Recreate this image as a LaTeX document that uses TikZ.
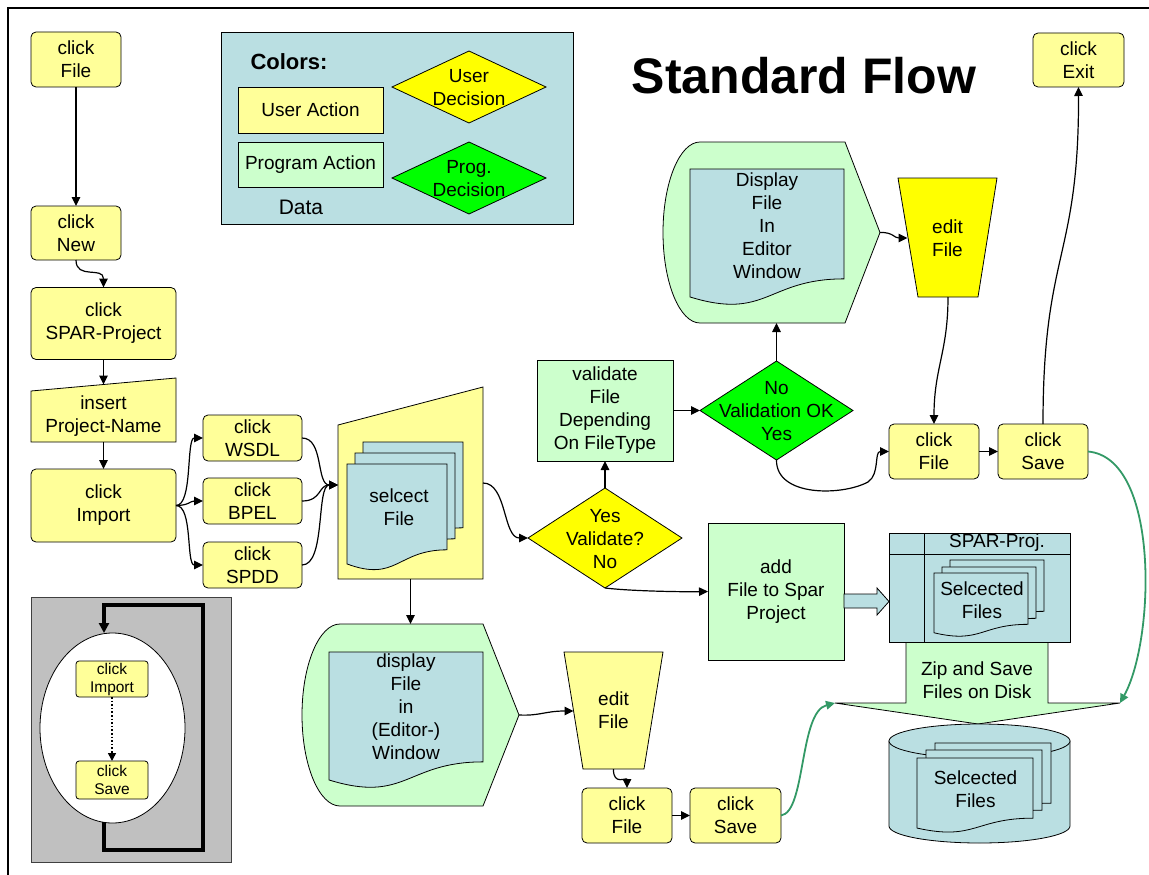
\documentclass[tikz,border=0pt]{standalone}
\usepackage{fontspec}
\setmainfont{Liberation Sans}
\usetikzlibrary{arrows.meta,shapes.geometric}
\definecolor{uay}{RGB}{255,255,153}
\definecolor{udy}{RGB}{255,255,0}
\definecolor{pag}{RGB}{204,255,204}
\definecolor{pdg}{RGB}{0,255,0}
\definecolor{datab}{RGB}{186,223,226}
\definecolor{insetgray}{RGB}{192,192,192}
\definecolor{savegreen}{RGB}{51,153,102}

% document symbol with wavy lower edge: style, x0, y0, width, height
\newcommand\docshape[5]{%
  \draw[#1] (#2,#3) -- ({#2+#4},#3) -- ({#2+#4},{#3+0.802*#5})
    .. controls ({#2+0.5*#4},{#3+0.802*#5}) and ({#2+0.5*#4},{#3+1.1075*#5}) .. (#2,{#3+0.934*#5}) -- cycle;}

\begin{document}
\begin{tikzpicture}[x=1pt,y=-1pt,
  every node/.style={font=\fontsize{19}{23}\selectfont, inner sep=0pt, outer sep=0pt, align=center},
  shapeline/.style={draw=black, line width=0.8pt},
  ua/.style={shapeline, fill=uay, rounded corners=5pt},
  box/.style={shapeline, rectangle},
  dec/.style={shapeline, diamond},
  conn/.style={line width=1.2pt, -{Triangle[length=9pt,width=8.5pt]}},
  gconn/.style={conn, draw=savegreen, line width=1.8pt},
  small/.style={font=\fontsize{15.5}{18}\selectfont}]

\useasboundingbox (0,0) rectangle (1149,875);
\draw[line width=2pt] (8,875) -- (8,8) -- (1149,8);

% ---------- legend ----------
\node[box, fill=datab, minimum width=352pt, minimum height=192pt] (legend) at (397,128) {};
\node[font=\fontsize{22}{26}\selectfont\bfseries] (lcolors) at (289,62) {Colors:};
\node[box, fill=uay, minimum width=145pt, minimum height=46pt] (lua) at (310.5,110) {User Action};
\node[box, fill=pag, minimum width=145pt, minimum height=45pt] (lpa) at (310.5,164.5) {Program Action};
\node[font=\fontsize{21}{25}\selectfont] (ldata) at (301,207) {Data};
\node[dec, fill=udy, minimum width=154pt, minimum height=72pt] (lud) at (469,87) {};
\node (ludt) at (469,88) {User\\Decision};
\node[dec, fill=pdg, minimum width=154pt, minimum height=72pt] (lpd) at (469,178) {};
\node (lpdt) at (469,179) {Prog.\\Decision};

\node[font=\fontsize{50}{60}\selectfont\bfseries, anchor=base] (title) at (804,93) {Standard Flow};

% ---------- left column ----------
\node[ua, minimum width=90pt, minimum height=55pt] (cf1) at (76,59.5) {click\\File};
\node[ua, minimum width=90pt, minimum height=54pt] (cnew) at (76,233) {click\\New};
\node[ua, minimum width=145pt, minimum height=72pt] (cspar) at (103.5,323.5) {click\\SPAR-Project};
\draw[shapeline, fill=uay] (31,391) -- (176,378) -- (176,442) -- (31,442) -- cycle;
\node (ins) at (103.5,416) {insert\\Project-Name};
\coordinate (insTop) at (103.5,384.5);
\coordinate (insBot) at (103.5,442);
\node[ua, minimum width=145pt, minimum height=73pt] (cimp) at (103.5,505.5) {click\\Import};
\node[ua, minimum width=99pt, minimum height=46pt] (cwsdl) at (252.5,438) {click\\WSDL};
\node[ua, minimum width=99pt, minimum height=46pt] (cbpel) at (252.5,501) {click\\BPEL};
\node[ua, minimum width=99pt, minimum height=46pt] (cspdd) at (252.5,565) {click\\SPDD};

% ---------- select file ----------
\draw[shapeline, fill=uay] (338,425) -- (483,387) -- (483,579) -- (338,579) -- cycle;
\docshape{shapeline,fill=datab}{363}{442}{100}{107}
\docshape{shapeline,fill=datab}{355}{453}{100}{107}
\docshape{shapeline,fill=datab}{347}{464}{100}{107}
\node (selt) at (399,507) {selcect\\File};
\coordinate (selIn) at (338,485);
\coordinate (selOut) at (483,483);
\coordinate (selBot) at (410.5,579);

% ---------- validation ----------
\node[dec, fill=udy, minimum width=154pt, minimum height=100pt] (vq) at (605,538) {};
\node (vqt) at (605,539) {Yes\\Validate?\\No};
\node[box, fill=pag, minimum width=136pt, minimum height=101pt] (val) at (605,410.5) {validate\\File\\Depending\\On FileType};
\node[dec, fill=pdg, minimum width=153pt, minimum height=99pt] (vok) at (776.5,410.5) {};
\node (vokt) at (776.5,411) {No\\Validation OK\\Yes};
\node[box, fill=pag, minimum width=136pt, minimum height=137pt] (add) at (776,591.5) {add\\File to Spar\\Project};

% ---------- upper display / edit ----------
\draw[shapeline, fill=pag] (700,142) -- (845,142) -- (880,232.5) -- (845,323) -- (700,323)
  .. controls (679.6,323) and (663,282.5) .. (663,232.5)
  .. controls (663,182.5) and (679.6,142) .. (700,142) -- cycle;
\docshape{shapeline,fill=datab}{690}{169}{154}{137}
\node (dispTt) at (767,226) {Display\\File\\In\\Editor\\Window};
\coordinate (dispTbot) at (776.5,323);
\coordinate (dispTout) at (880,232.5);
\draw[shapeline, fill=udy] (898,178) -- (997,178) -- (978,297) -- (918,297) -- cycle;
\node (editTt) at (947.5,238) {edit\\File};
\coordinate (editTin) at (907.5,238);
\coordinate (editTbot) at (948,297);
\node[ua, minimum width=91pt, minimum height=54pt] (cexit) at (1078.5,60) {click\\Exit};
\node[ua, minimum width=90pt, minimum height=55pt] (cfile2) at (934,451.5) {click\\File};
\node[ua, minimum width=90pt, minimum height=55pt] (csave2) at (1043,451.5) {click\\Save};

% ---------- project storage and disk ----------
\draw[shapeline, fill=pag] (906,642) -- (1048,642) -- (1048,703) -- (1120,703) -- (978,724)
  -- (835,703) -- (906,703) -- cycle;
\node (zipt) at (977,680) {Zip and Save\\Files on Disk};
\coordinate (zipL) at (835,703);
\coordinate (zipR) at (1120,703);
\draw[shapeline, fill=datab] (844,594) -- (877,594) -- (877,588) -- (889,601.5) -- (877,615)
  -- (877,608) -- (844,608) -- cycle;
\node[box, fill=datab, minimum width=181pt, minimum height=109pt] (sparproj) at (979.5,587.5) {};
\draw[shapeline] (924,533) -- (924,642);
\draw[shapeline] (889,554) -- (1070,554);
\node (sparlbl) at (997,543) {SPAR-Proj.};
\docshape{shapeline,fill=datab}{950}{560}{94}{64}
\docshape{shapeline,fill=datab}{942}{567}{94}{64}
\docshape{shapeline,fill=datab}{934}{573}{94}{64}
\node (sparfiles) at (982,600) {Selcected\\Files};

\draw[shapeline, fill=datab] (889,741) -- (889,826)
  .. controls (889,835.4) and (929.5,843) .. (979.5,843)
  .. controls (1029.5,843) and (1070,835.4) .. (1070,826) -- (1070,741) -- cycle;
\draw[shapeline, fill=datab] (979.5,741) ellipse [x radius=90.5pt, y radius=17pt];
\docshape{shapeline,fill=datab}{935}{743}{116}{75}
\docshape{shapeline,fill=datab}{926}{750}{116}{75}
\docshape{shapeline,fill=datab}{917}{758}{116}{75}
\node (diskfiles) at (975.5,789) {Selcected\\Files};

% ---------- lower display / edit ----------
\draw[shapeline, fill=pag] (340,624) -- (483,624) -- (519,715) -- (483,806) -- (340,806)
  .. controls (319,806) and (302,765) .. (302,715)
  .. controls (302,665) and (319,624) .. (340,624) -- cycle;
\docshape{shapeline,fill=datab}{329}{652}{154}{137}
\node (dispBt) at (406,707) {display\\File\\in\\(Editor-)\\Window};
\coordinate (dispBtop) at (410.5,624);
\coordinate (dispBout) at (519,715);
\draw[shapeline, fill=uay] (564,652) -- (663,652) -- (644,769) -- (583,769) -- cycle;
\node (editBt) at (613.5,710) {edit\\File};
\coordinate (editBin) at (573.5,711);
\coordinate (editBbot) at (613.5,769);
\node[ua, minimum width=90pt, minimum height=55pt] (cfile3) at (627,815.5) {click\\File};
\node[ua, minimum width=91pt, minimum height=55pt] (csave3) at (735.5,815.5) {click\\Save};

% ---------- repeat loop inset ----------
\node[draw=black!75, line width=1pt, fill=insetgray, minimum width=200pt, minimum height=265pt] (inset) at (131,729.5) {};
\node[shapeline, fill=white, ellipse, minimum width=145pt, minimum height=190pt] (loopell) at (112.5,728) {};
\node[ua, rounded corners=3pt, small, minimum width=72pt, minimum height=36pt] (simp) at (112,679) {click\\Import};
\node[ua, rounded corners=3pt, small, minimum width=72pt, minimum height=38pt] (ssave) at (112,780) {click\\Save};
\draw[line width=1.6pt, dotted, -{Triangle[length=8pt,width=8pt]}] (simp.south) -- (ssave.north);
\coordinate (loopStart) at (104,822);
\coordinate (loopEnd) at (104,633);
\draw[line width=3.5pt, -{Triangle[length=10pt,width=10pt]}] (loopStart) -- (104,850) -- (203,850) -- (203,605) -- (104,605) -- (loopEnd);

% ---------- connectors ----------
\draw[conn] (cf1.south) -- (cnew.north);
\draw[conn] (cnew.south) .. controls (76,280) and (103.5,266) .. (cspar.north);
\draw[conn] (cspar.south) -- (insTop);
\draw[conn] (insBot) -- (cimp.north);
\draw[conn] (cimp.east) .. controls (193,505.5) and (186,438) .. (cwsdl.west);
\draw[conn] (cimp.east) .. controls (189,505.5) and (190,501) .. (cbpel.west);
\draw[conn] (cimp.east) .. controls (193,505.5) and (186,565) .. (cspdd.west);
\draw[conn] (cwsdl.east) .. controls (324,438) and (316,485) .. (selIn);
\draw[conn] (cbpel.east) .. controls (322,501) and (318,485) .. (selIn);
\draw[conn] (cspdd.east) .. controls (326,565) and (316,485) .. (selIn);
\draw[conn] (selOut) .. controls (507,483) and (503,538) .. (vq.west);
\draw[conn] (selBot) -- (dispBtop);
\draw[conn] (vq.north) -- (val.south);
\draw[conn] (vq.south) .. controls (630,591) and (680,592) .. (add.west);
\draw[conn] (val.east) -- (vok.west);
\draw[conn] (vok.north) -- (dispTbot);
\draw[conn] (vok.south) .. controls (776,497) and (842,496) .. (868,482)
  .. controls (880,474) and (874,451.5) .. (cfile2.west);
\draw[conn] (dispTout) .. controls (893,232) and (894,238) .. (editTin);
\draw[conn] (editTbot) .. controls (948,352) and (934,368) .. (cfile2.north);
\draw[conn] (cfile2.east) -- (csave2.west);
\draw[conn] (csave2.north) .. controls (1043,250) and (1079,260) .. (cexit.south);
\draw[gconn] (csave2.east) .. controls (1160,458) and (1155,640) .. (zipR);
\draw[conn] (dispBout) .. controls (540,716) and (545,711) .. (editBin);
\draw[conn] (editBbot) .. controls (613,786) and (627,777) .. (cfile3.north);
\draw[conn] (cfile3.east) -- (csave3.west);
\draw[gconn] (csave3.east) .. controls (806,812) and (799,712) .. (zipL);
\end{tikzpicture}
\end{document}
